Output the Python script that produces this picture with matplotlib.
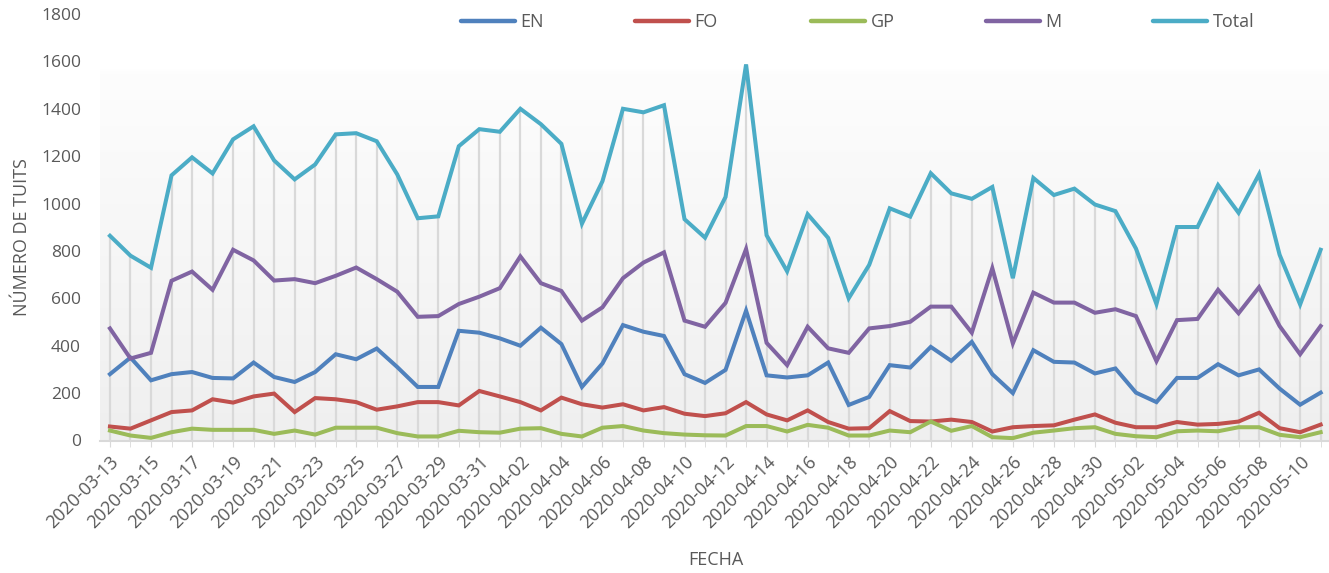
import matplotlib
matplotlib.use("Agg")
import matplotlib.pyplot as plt
import numpy as np
import pandas as pd
from matplotlib.colors import LinearSegmentedColormap
from matplotlib.lines import Line2D

plt.rcParams['font.family'] = ['Open Sans', 'DejaVu Sans']

dates = [d.strftime('%Y-%m-%d') for d in pd.date_range('2020-03-13', '2020-05-11')]

total = [864, 780, 729, 1119, 1195, 1127, 1271, 1326, 1182, 1102,
         1165, 1292, 1297, 1263, 1123, 938, 946, 1242, 1314, 1303,
         1400, 1335, 1252, 915, 1094, 1400, 1385, 1415, 934, 856,
         1028, 1587, 866, 714, 955, 855, 600, 741, 980, 945,
         1128, 1043, 1020, 1070, 685, 1108, 1036, 1063, 996, 968,
         810, 576, 901, 901, 1078, 961, 1124, 784, 574, 805]
m = [473, 346, 370, 674, 713, 636, 805, 760, 675, 681,
     664, 695, 730, 681, 628, 522, 525, 576, 607, 643,
     777, 664, 631, 506, 562, 685, 751, 794, 506, 480,
     581, 808, 412, 318, 480, 389, 370, 473, 483, 501,
     565, 565, 455, 727, 410, 624, 582, 582, 539, 554,
     525, 335, 508, 513, 636, 537, 647, 483, 364, 483]
en = [280, 350, 254, 280, 289, 264, 262, 329, 268, 247,
      289, 364, 343, 388, 310, 226, 226, 463, 455, 431,
      400, 476, 407, 226, 325, 487, 459, 441, 280, 243,
      298, 548, 275, 266, 275, 329, 150, 184, 318, 308,
      395, 336, 416, 280, 200, 381, 332, 329, 283, 304,
      202, 162, 264, 264, 322, 275, 300, 219, 151, 202]
fo = [59, 50, 85, 120, 127, 174, 160, 186, 198, 120,
      179, 174, 162, 130, 144, 162, 162, 148, 209, 186,
      162, 127, 181, 153, 139, 153, 127, 141, 113, 103,
      115, 162, 110, 85, 127, 78, 50, 52, 124, 82,
      80, 88, 78, 38, 56, 61, 64, 88, 110, 75,
      56, 56, 78, 67, 70, 80, 117, 52, 35, 67]
gp = [42, 21, 11, 35, 50, 45, 45, 45, 28, 42,
      25, 54, 54, 54, 31, 17, 17, 41, 35, 33,
      50, 52, 28, 17, 54, 61, 42, 31, 25, 22,
      21, 61, 61, 38, 66, 54, 21, 21, 42, 35,
      80, 41, 61, 14, 10, 33, 42, 52, 56, 28,
      18, 14, 39, 42, 39, 56, 56, 24, 14, 35]

series = [('EN', en, '#4F81BD'), ('FO', fo, '#C0504D'), ('GP', gp, '#9BBB59'),
          ('M', m, '#8064A2'), ('Total', total, '#4BACC6')]
yticks = [0, 200, 400, 600, 800, 1000, 1200, 1400, 1600, 1800]

W, H = 1329, 573
fig = plt.figure(figsize=(W / 100, H / 100), dpi=100)
left_px, right_px = 99.7, 1329
top_px, bot_px = 14, 440.5
ax = fig.add_axes([left_px / W, 1 - bot_px / H, (right_px - left_px) / W, (bot_px - top_px) / H])

x = np.arange(len(dates))
xmax = (right_px - left_px) / 20.52 - 0.5

# background gradient: grey at bottom fading to white near top
cmap = LinearSegmentedColormap.from_list('g', [(0, '#efefef'), (0.86, '#fdfdfd'), (0.87, '#ffffff'), (1, '#ffffff')])
grad = np.linspace(0, 1, 512).reshape(-1, 1)
ax.imshow(grad, extent=[-0.5, xmax, 0, 1800], origin='lower', aspect='auto',
          cmap=cmap, vmin=0, vmax=1, zorder=0)
ax.set_xlim(-0.5, xmax)
ax.set_ylim(0, 1800)

ax.vlines(x, 0, total, color='#d9d9d9', lw=1.6, zorder=1)

for name, vals, col in series:
    ax.plot(x, vals, color=col, lw=2.9, solid_joinstyle='miter', zorder=3, label=name)

for s in ['top', 'right', 'left']:
    ax.spines[s].set_visible(False)
ax.spines['bottom'].set_color('#d9d9d9')
ax.spines['bottom'].set_linewidth(1.5)

ax.set_yticks(yticks)
ax.set_yticklabels([str(v) for v in yticks], fontsize=12.5, color='#595959')
ax.tick_params(axis='y', length=0, pad=13.5)
ax.set_xticks(x[::2])
ax.set_xticklabels(dates[::2], rotation=45, ha='right', rotation_mode='anchor',
                   fontsize=13, color='#595959')
ax.set_xticks(x, minor=True)
ax.tick_params(axis='x', which='both', length=4, color='#d9d9d9', pad=5)

fig.text(22 / W, 1 - 237 / H, 'NÚMERO DE TUITS', rotation=90, ha='center', va='center',
         fontsize=13, color='#595959')
fig.text(716 / W, 1 - 560 / H, 'FECHA', ha='center', va='center', fontsize=13, color='#595959')

starts = [461, 635, 811, 986, 1153]
for (name, vals, col), sx in zip(series, starts):
    fig.legend([Line2D([0], [0], color=col, lw=3.2, solid_capstyle='round')], [name],
               loc='center left', bbox_to_anchor=(sx / W, 1 - 22 / H),
               frameon=False, fontsize=13, handlelength=3.0, handletextpad=0.3,
               borderpad=0, borderaxespad=0, labelcolor='#595959')

fig.savefig('out.png', dpi=100)
